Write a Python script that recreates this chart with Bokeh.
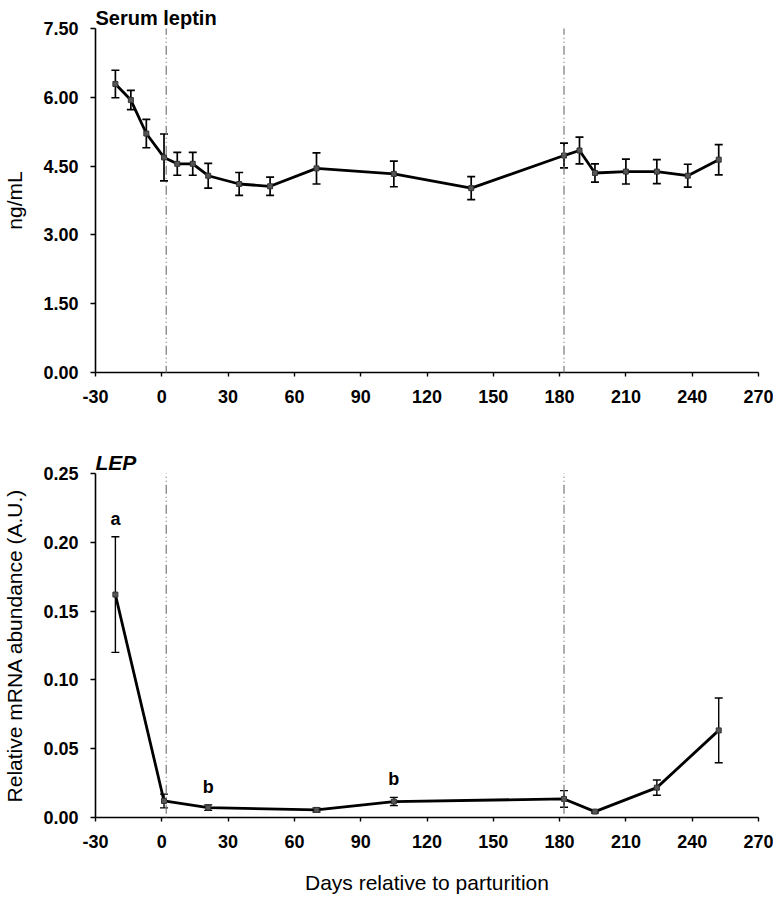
from bokeh.plotting import figure
from bokeh.layouts import column
from bokeh.models import (ColumnDataSource, Whisker, TeeHead, FixedTicker,
                          NumeralTickFormatter, Arrow, Range1d)
from bokeh.core.properties import value
from bokeh.embed import file_html
from bokeh.resources import INLINE

# ---------------- data ----------------
serum_days = [-21, -14, -7, 1, 7, 14, 21, 35, 49, 70, 105, 140, 182, 189, 196, 210, 224, 238, 252]
serum_leptin = [6.29, 5.94, 5.21, 4.69, 4.55, 4.55, 4.29, 4.11, 4.06, 4.45, 4.33, 4.02,
                4.73, 4.84, 4.35, 4.38, 4.38, 4.29, 4.64]
serum_se = [0.30, 0.21, 0.31, 0.51, 0.25, 0.25, 0.27, 0.25, 0.20, 0.34, 0.28, 0.25,
            0.27, 0.29, 0.20, 0.27, 0.26, 0.25, 0.33]

lep_days = [-21, 1, 21, 70, 105, 182, 196, 224, 252]
lep_mrna = [0.162, 0.012, 0.0072, 0.0055, 0.0116, 0.0135, 0.0043, 0.0217, 0.0633]
lep_se = [0.042, 0.005, 0.002, 0.0015, 0.003, 0.006, 0.001, 0.0055, 0.0235]
lep_letters = ["a", "", "b", "", "b", "", "", "", ""]

period_marks = [2, 182]

x_ticks = [-30, 0, 30, 60, 90, 120, 150, 180, 210, 240, 270]
x_tick_labels = ["-30", "0", "30", "60", "90", "120", "150", "180", "210", "240", "270"]
serum_y_ticks = [0, 1.5, 3.0, 4.5, 6.0, 7.5]
lep_y_ticks = [0, 0.05, 0.10, 0.15, 0.20, 0.25]

FONT = "Liberation Sans"
W = 773
H1 = 420
H2 = 476


def style(p, yticks):
    p.xgrid.visible = False
    p.ygrid.visible = False
    p.outline_line_color = None
    p.background_fill_color = "white"
    p.border_fill_color = "white"
    p.xaxis.ticker = FixedTicker(ticks=x_ticks)
    p.xaxis.major_label_overrides = {t: l for t, l in zip(x_ticks, x_tick_labels)}
    p.yaxis.ticker = FixedTicker(ticks=yticks)
    p.yaxis.formatter = NumeralTickFormatter(format="0.00")
    for ax in (p.xaxis[0], p.yaxis[0]):
        ax.axis_line_color = "black"
        ax.axis_line_width = 1.6
        ax.major_tick_line_color = "black"
        ax.major_tick_line_width = 1.4
        ax.major_tick_in = 0
        ax.minor_tick_line_color = None
        ax.major_label_text_font = FONT
        ax.major_label_text_font_size = "18px"
        ax.major_label_text_font_style = "bold"
        ax.major_label_text_color = "black"
        ax.axis_label_text_font = FONT
        ax.axis_label_text_font_size = "21px"
        ax.axis_label_text_font_style = "normal"
        ax.axis_label_text_color = "black"
    p.xaxis.major_tick_out = 4
    p.xaxis.major_label_standoff = 13
    p.yaxis.major_tick_out = 5
    p.yaxis.major_label_standoff = 12
    p.yaxis.axis_label_standoff = 14
    p.title.text_font = FONT
    p.title.text_font_size = "20px"
    p.title.align = "left"
    p.title.text_color = "black"
    p.title.standoff = 0


def series(p, days, vals, ses, lw_err):
    src = ColumnDataSource(dict(
        x=days, y=vals,
        upper=[v + s for v, s in zip(vals, ses)],
        lower=[v - s for v, s in zip(vals, ses)],
    ))
    w = Whisker(base="x", upper="upper", lower="lower", source=src,
                line_color="black", line_width=lw_err,
                upper_head=TeeHead(size=8, line_color="black", line_width=lw_err),
                lower_head=TeeHead(size=8, line_color="black", line_width=lw_err))
    p.add_layout(w)
    p.line("x", "y", source=src, line_color="black", line_width=2.8)
    p.scatter("x", "y", source=src, marker="square", size=5,
              fill_color="#555555", line_color="#333333")
    return src


# ---------------- top: serum leptin ----------------
p1 = figure(width=W, height=H1, x_range=Range1d(-30, 270), y_range=Range1d(0, 7.5),
            output_backend="svg", toolbar_location=None,
            min_border_left=93, min_border_right=15, min_border_top=28, min_border_bottom=48,
            title="Serum leptin")
style(p1, serum_y_ticks)
p1.title.text_font_style = "bold"
p1.yaxis.axis_label = "ng/mL"
series(p1, serum_days, serum_leptin, serum_se, 1.7)
for d in period_marks:
    p1.add_layout(Arrow(end=None, x_start=d, y_start=7.56, x_end=d, y_end=-1.5,
                        line_color="#777777", line_width=1.2, line_dash="9 3 1 3 1 3"))

# ---------------- bottom: LEP mRNA ----------------
p2 = figure(width=W, height=H2, x_range=Range1d(-30, 270), y_range=Range1d(0, 0.25),
            output_backend="svg", toolbar_location=None,
            min_border_left=93, min_border_right=15, min_border_top=53, min_border_bottom=77,
            title="LEP")
style(p2, lep_y_ticks)
p2.title.text_font_style = "bold italic"
p2.title.text_font_size = "21px"
p2.yaxis.axis_label = "Relative mRNA abundance (A.U.)"
p2.xaxis.axis_label = "Days relative to parturition"
p2.xaxis.axis_label_standoff = 20
series(p2, lep_days, lep_mrna, lep_se, 1.4)
for d in period_marks:
    p2.add_layout(Arrow(end=None, x_start=d, y_start=0.30, x_end=d, y_end=-0.002,
                        line_color="#777777", line_width=1.2, line_dash="9 3 1 3 1 3"))

let_x = [d for d, l in zip(lep_days, lep_letters) if l]
let_y = [v + s for v, s, l in zip(lep_mrna, lep_se, lep_letters) if l]
let_t = [l for l in lep_letters if l]
p2.text(x=let_x, y=let_y, text=let_t, text_align="center", text_baseline="bottom",
        y_offset=-8, text_font=value(FONT), text_font_size="18px",
        text_font_style="bold", text_color="black")

layout = column(p1, p2, spacing=0)
open("out.html", "w").write(file_html(layout, INLINE))
